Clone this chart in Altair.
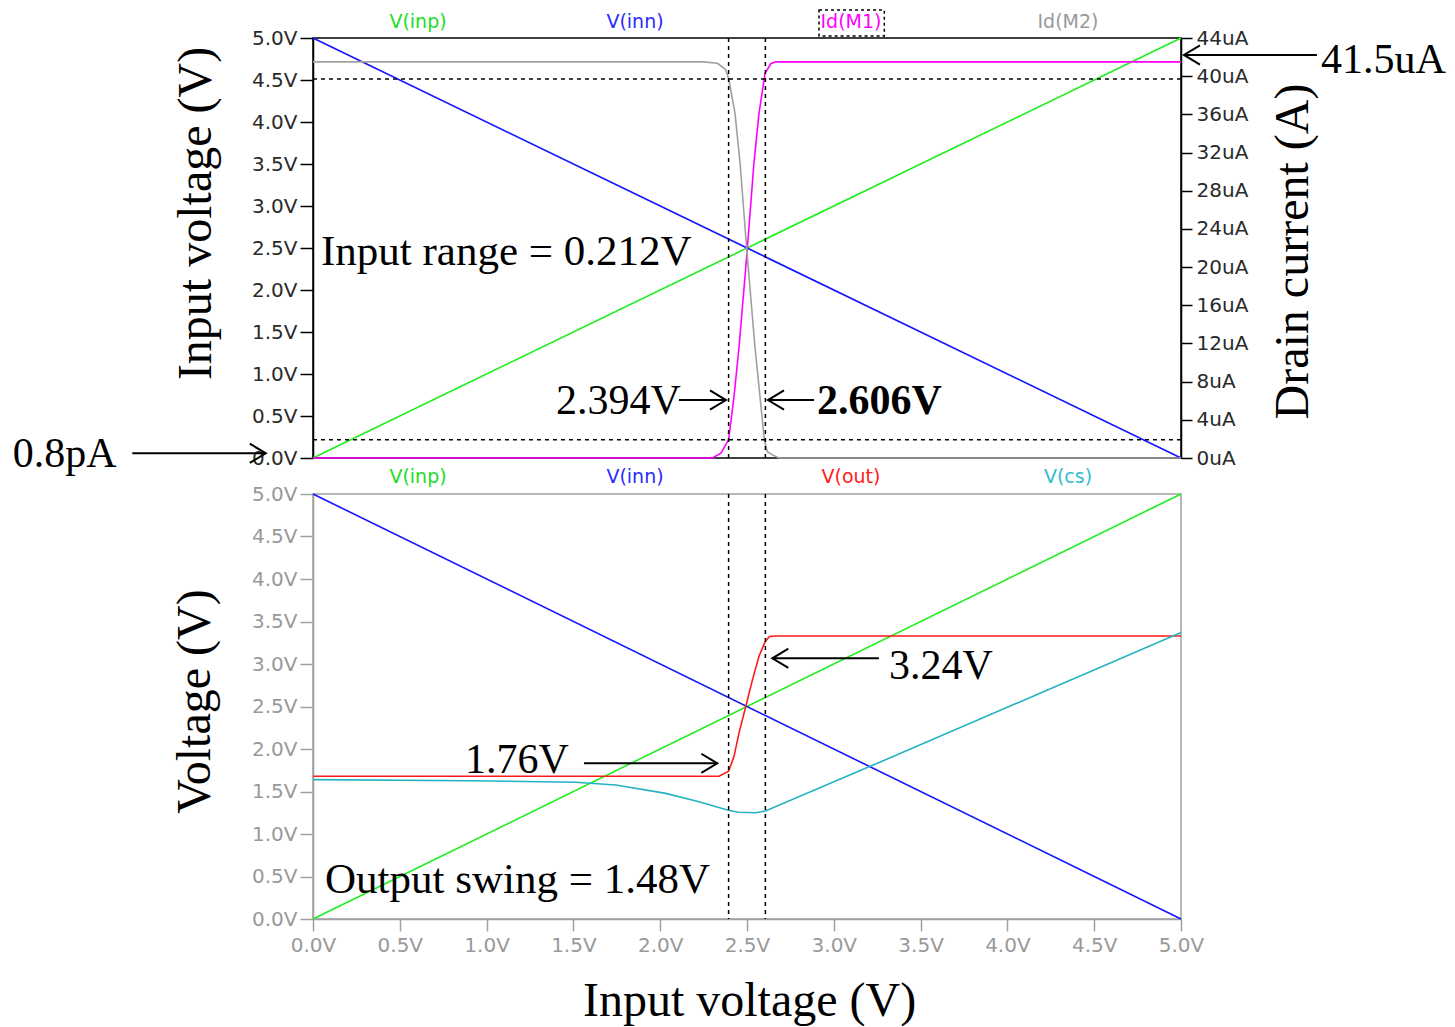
import altair as alt
import pandas as pd

# ---------------- data ----------------
lin_x = [0.0, 5.0]
v_inp = [0.0, 5.0]
v_inn = [5.0, 0.0]

id_m1_x = [0.0, 2.30, 2.35, 2.394, 2.425, 2.454, 2.50, 2.54, 2.569, 2.604, 2.637, 2.666, 5.0]
id_m1_ua = [0.0, 0.0, 0.5, 1.9, 6.4, 11.6, 21.5, 30.9, 36.1, 40.3, 41.3, 41.5, 41.5]

id_m2_x = [0.0, 2.25, 2.33, 2.377, 2.396, 2.431, 2.46, 2.50, 2.546, 2.575, 2.600, 2.617, 2.65, 2.684, 5.0]
id_m2_ua = [41.5, 41.5, 41.35, 40.7, 39.6, 36.1, 30.9, 21.5, 11.6, 6.4, 1.9, 0.66, 0.3, 0.0, 0.0]

vout_x = [0.0, 2.339, 2.394, 2.425, 2.454, 2.493, 2.531, 2.569, 2.604, 2.627, 2.656, 5.0]
vout_v = [1.68, 1.68, 1.74, 1.91, 2.19, 2.50, 2.81, 3.09, 3.26, 3.32, 3.33, 3.33]

vcs_x = [0.0, 0.9, 1.513, 1.744, 2.032, 2.224, 2.387, 2.45, 2.55, 2.606, 3.203, 5.0]
vcs_v = [1.64, 1.627, 1.608, 1.576, 1.478, 1.38, 1.282, 1.255, 1.25, 1.27, 1.79, 3.37]

cursor_x = [2.394, 2.606]
cursor_ua = [1.9, 39.7]

v_ticks = [0.0, 0.5, 1.0, 1.5, 2.0, 2.5, 3.0, 3.5, 4.0, 4.5, 5.0]
i_ticks = [0, 4, 8, 12, 16, 20, 24, 28, 32, 36, 40, 44]

top_names = ["V(inp)", "V(inn)", "Id(M1)", "Id(M2)"]
bot_names = ["V(inp)", "V(inn)", "V(out)", "V(cs)"]
label_x = [0.605, 1.855, 3.099, 4.349]

# annotations (data units: volts on x, volts on left axis)
top_ann_text = ["2.394V", "0.8pA", "41.5uA"]
top_ann_x = [1.400, -1.729, 5.806]
top_ann_y = [0.524, -0.11, 4.583]
top_long_text = ["Input range = 0.212V"]
top_long_x = [0.046]
top_long_y = [2.298]
top_bold_text = ["2.606V"]
top_bold_x = [2.903]
top_bold_y = [0.524]
top_arrow_x = [2.108, 2.886, -1.041, 5.783]
top_arrow_x2 = [2.379, 2.621, -0.272, 5.017]
top_arrow_y = [0.69, 0.69, 0.056, 4.798]

bot_ann_text = ["3.24V", "1.76V"]
bot_ann_x = [3.318, 0.876]
bot_ann_y = [2.824, 1.718]
bot_long_text = ["Output swing = 1.48V"]
bot_long_x = [0.069]
bot_long_y = [0.302]
bot_arrow_x = [3.260, 1.561]
bot_arrow_x2 = [2.646, 2.329]
bot_arrow_y = [3.067, 1.831]

box_x = [2.915]
box_x2 = [3.291]

# ---------------- style ----------------
SANS = "DejaVu Sans"
SERIF = "Liberation Serif"
C_GREEN, C_BLUE, C_MAG, C_GRAY, C_RED, C_CYAN = "#1fee1f", "#1414ff", "#ff00ff", "#a0a0a0", "#ff1a1a", "#22b4c2"
top_label_colors = ["#22dd22", "#2a2aff", "#ff00ff", "#999999"]
bot_label_colors = ["#22dd22", "#2a2aff", "#ff2020", "#33bbcc"]
RIGHT_HEAD = "M -1 -0.6 L 0 0 L -1 0.6"
LEFT_HEAD = "M 1 -0.6 L 0 0 L 1 0.6"
LBL = 20

xs = alt.Scale(domain=[0, 5], nice=False, zero=False)

# ---------------- axes ----------------
top_v_axis = alt.Axis(orient="left", values=v_ticks, labelExpr="format(datum.value, '.1f') + 'V'",
                      labelFont=SANS, labelFontSize=LBL, labelColor="#2a2a2a", tickColor="#000000",
                      tickSize=13, tickWidth=1.5, labelPadding=3, domainColor="#000000", domainWidth=1.5,
                      grid=False, title="Input voltage (V)", titleFont=SERIF, titleFontSize=48,
                      titleFontWeight="normal", titleColor="#000000", titleAngle=270, titleAlign="center",
                      titleBaseline="alphabetic", titleX=-103, titleY=175, labelOverlap=False)
top_i_axis = alt.Axis(orient="right", values=i_ticks, labelExpr="datum.value + 'uA'",
                      labelFont=SANS, labelFontSize=LBL, labelColor="#2a2a2a", tickColor="#000000",
                      tickSize=11, tickWidth=1.5, labelPadding=4, domainColor="#000000", domainWidth=1.5,
                      grid=False, title="Drain current (A)", titleFont=SERIF, titleFontSize=48,
                      titleFontWeight="normal", titleColor="#000000", titleAngle=270, titleAlign="center",
                      titleBaseline="alphabetic", titleX=126, titleY=213, labelOverlap=False)
bot_v_axis = alt.Axis(orient="left", values=v_ticks, labelExpr="format(datum.value, '.1f') + 'V'",
                      labelFont=SANS, labelFontSize=LBL, labelColor="#999999", tickColor="#a0a0a0",
                      tickSize=13, tickWidth=1.5, labelPadding=3, domainColor="#a0a0a0", domainWidth=1.5,
                      grid=False, title="Voltage (V)", titleFont=SERIF, titleFontSize=48,
                      titleFontWeight="normal", titleColor="#000000", titleAngle=270, titleAlign="center",
                      titleBaseline="alphabetic", titleX=-104, titleY=207, labelOverlap=False)
bot_x_axis = alt.Axis(orient="bottom", values=v_ticks, labelExpr="format(datum.value, '.1f') + 'V'",
                      labelFont=SANS, labelFontSize=LBL, labelColor="#999999", tickColor="#a0a0a0",
                      tickSize=12, tickWidth=1.5, labelPadding=4, domainColor="#a0a0a0", domainWidth=1.5,
                      grid=False, labelFlush=False, labelOverlap=False,
                      title="Input voltage (V)", titleFont=SERIF, titleFontSize=48,
                      titleFontWeight="normal", titleColor="#000000", titleAlign="center",
                      titleBaseline="alphabetic", titleX=436, titleY=96)

XT = alt.X("x:Q", scale=xs, axis=None)
XT2 = alt.X("x2:Q", scale=xs, axis=None)
XB = alt.X("x:Q", scale=xs, axis=bot_x_axis)
XB2 = alt.X("x2:Q", scale=xs, axis=bot_x_axis)
YV = alt.Y("y:Q", scale=alt.Scale(domain=[0, 5], nice=False, zero=False), axis=top_v_axis)
YI = alt.Y("y:Q", scale=alt.Scale(domain=[0, 44], nice=False, zero=False), axis=top_i_axis)
YB = alt.Y("y:Q", scale=alt.Scale(domain=[0, 5], nice=False, zero=False), axis=bot_v_axis)


def line(xv, yv, color, X, Y):
    df = pd.DataFrame({"x": xv, "y": yv})
    return alt.Chart(df).mark_line(color=color, strokeWidth=1.6).encode(x=X, y=Y)


def texts(tx, xv, yv, X, Y, bold=False, size=42):
    df = pd.DataFrame({"x": xv, "y": yv, "t": tx})
    return alt.Chart(df).mark_text(font=SERIF, fontSize=size, fontWeight="bold" if bold else "normal",
                                   align="left", baseline="alphabetic", color="black").encode(
        x=X, y=Y, text="t:N")


def arrows(x1, x2, yv, X, Xh, Y):
    df = pd.DataFrame({"x": x1, "x2": x2, "y": yv,
                       "d": ["r" if b > a else "l" for a, b in zip(x1, x2)]})
    shaft = alt.Chart(df).mark_rule(color="black", strokeWidth=2).encode(x=X, x2="x2:Q", y=Y)
    headr = alt.Chart(df).transform_filter("datum.d == 'r'").mark_point(
        shape=RIGHT_HEAD, size=1024, filled=False, color="black", strokeWidth=2, opacity=1).encode(
        x=Xh, y=Y)
    headl = alt.Chart(df).transform_filter("datum.d == 'l'").mark_point(
        shape=LEFT_HEAD, size=1024, filled=False, color="black", strokeWidth=2, opacity=1).encode(
        x=Xh, y=Y)
    return [shaft, headr, headl]


def trace_labels(names, colors, X, ypx):
    out = []
    for n, c, xv in zip(names, colors, label_x):
        df = pd.DataFrame({"x": [xv], "t": [n]})
        out.append(alt.Chart(df).mark_text(font=SANS, fontSize=19, color=c, align="center",
                                           baseline="middle").encode(x=X, y=alt.value(ypx), text="t:N"))
    return out


# ---------------- top panel ----------------
v_group = alt.layer(
    line(lin_x, v_inp, C_GREEN, XT, YV),
    line(lin_x, v_inn, C_BLUE, XT, YV),
    texts(top_ann_text, top_ann_x, top_ann_y, XT, YV),
    texts(top_long_text, top_long_x, top_long_y, XT, YV, size=43),
    texts(top_bold_text, top_bold_x, top_bold_y, XT, YV, bold=True),
    *arrows(top_arrow_x, top_arrow_x2, top_arrow_y, XT, XT2, YV),
)

box = alt.Chart(pd.DataFrame({"x": box_x, "x2": box_x2})).mark_rect(
    fillOpacity=0, stroke="black", strokeWidth=1.5, strokeDash=[3, 3]).encode(
    x=XT, x2="x2:Q", y=alt.value(-28), y2=alt.value(-2))

i_group = alt.layer(
    line(id_m1_x, id_m1_ua, C_MAG, XT, YI),
    line(id_m2_x, id_m2_ua, C_GRAY, XT, YI),
    alt.Chart(pd.DataFrame({"y": cursor_ua})).mark_rule(color="black", strokeWidth=1.5,
                                                          strokeDash=[4, 4]).encode(y=YI),
    alt.Chart(pd.DataFrame({"x": cursor_x})).mark_rule(color="black", strokeWidth=1.5,
                                                         strokeDash=[4, 4]).encode(x=XT),
    *trace_labels(top_names, top_label_colors, XT, -16),
    box,
)

top = alt.layer(v_group, i_group).resolve_scale(y="independent").properties(
    width=868, height=420, view=alt.ViewBackground(stroke="#000000", strokeWidth=1.5))

# ---------------- bottom panel ----------------
bottom = alt.layer(
    line(lin_x, v_inp, C_GREEN, XB, YB),
    line(lin_x, v_inn, C_BLUE, XB, YB),
    line(vout_x, vout_v, C_RED, XB, YB),
    line(vcs_x, vcs_v, C_CYAN, XB, YB),
    alt.Chart(pd.DataFrame({"x": cursor_x})).mark_rule(color="black", strokeWidth=1.5,
                                                         strokeDash=[4, 4]).encode(x=XB),
    texts(bot_ann_text, bot_ann_x, bot_ann_y, XB, YB),
    texts(bot_long_text, bot_long_x, bot_long_y, XB, YB, size=43),
    *arrows(bot_arrow_x, bot_arrow_x2, bot_arrow_y, XB, XB2, YB),
    *trace_labels(bot_names, bot_label_colors, XB, -17),
).properties(width=868, height=425, view=alt.ViewBackground(stroke="#a0a0a0", strokeWidth=1.5))

chart = alt.vconcat(top, bottom, spacing=36, bounds="flush").properties(
    padding={"left": 4, "top": 0, "right": 0, "bottom": 0},
    background="white",
)

chart.save("out.html", embed_options={"renderer": "svg", "actions": False})
